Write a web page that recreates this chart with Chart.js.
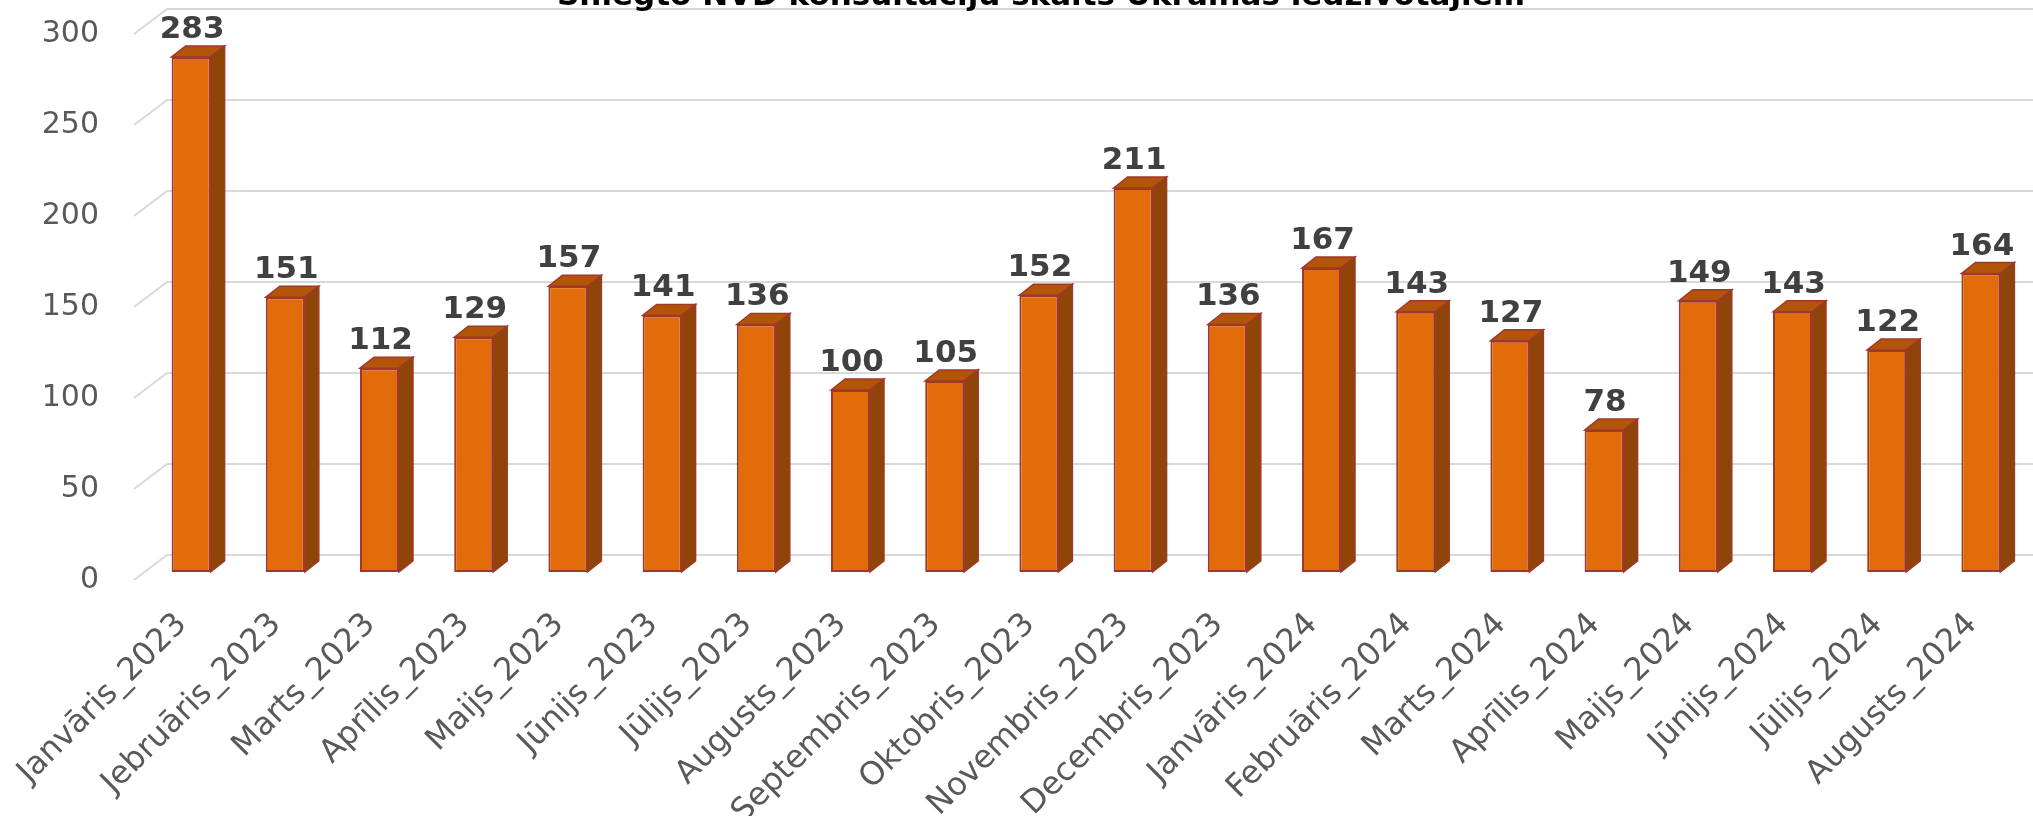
<!DOCTYPE html>
<html>
<head>
<meta charset="utf-8">
<script src="https://cdn.jsdelivr.net/npm/chart.js@4/dist/chart.umd.min.js"></script>
<style>
  html, body { margin: 0; padding: 0; background: #fff; }
</style>
</head>
<body>
<canvas id="graf" width="2033" height="816"></canvas>
<script>
// Mēneši (kategorijas)
const menesi = [
  'Janvāris_2023', 'Jebruāris_2023', 'Marts_2023', 'Aprīlis_2023', 'Maijs_2023',
  'Jūnijs_2023', 'Jūlijs_2023', 'Augusts_2023', 'Septembris_2023', 'Oktobris_2023',
  'Novembris_2023', 'Decembris_2023', 'Janvāris_2024', 'Februāris_2024', 'Marts_2024',
  'Aprīlis_2024', 'Maijs_2024', 'Jūnijs_2024', 'Jūlijs_2024', 'Augusts_2024'
];

// Konsultāciju skaits
const konsultacijas = [283, 151, 112, 129, 157, 141, 136, 100, 105, 152, 211, 136, 167, 143, 127, 78, 149, 143, 122, 164];

// Y ass iedaļas
const yTicks = [0, 50, 100, 150, 200, 250, 300];

const virsraksts = 'Sniegto NVD konsultāciju skaits Ukrainas iedzīvotājiem';

// dziļuma efekts (3D)
const DX = 14, DY = 11;

// režģa līnijas uz aizmugurējās sienas + slīpās līnijas
const rezgis = {
  id: 'rezgis',
  beforeDatasetsDraw(chart) {
    const ctx = chart.ctx;
    const y = chart.scales.y;
    const left = chart.chartArea.left;
    ctx.save();
    ctx.strokeStyle = '#d9d9d9';
    ctx.lineWidth = 2;
    yTicks.forEach(v => {
      const py = y.getPixelForValue(v);
      ctx.beginPath();
      ctx.moveTo(left - 10, py + 8);
      ctx.lineTo(left + 23, py - 17);
      ctx.lineTo(chart.width, py - 17);
      ctx.stroke();
    });
    ctx.restore();
  }
};

// stabiņu sāni un augša + vērtības
const stabini3d = {
  id: 'stabini3d',
  afterDatasetsDraw(chart) {
    const ctx = chart.ctx;
    const meta = chart.getDatasetMeta(0);
    ctx.save();
    meta.data.forEach((bar, i) => {
      const p = bar.getProps(['x', 'y', 'base', 'width'], true);
      const l = p.x - p.width / 2, r = p.x + p.width / 2;
      ctx.lineWidth = 1.5;
      ctx.strokeStyle = '#a0392b';
      // augša
      ctx.fillStyle = '#b25508';
      ctx.beginPath();
      ctx.moveTo(l, p.y);
      ctx.lineTo(l + DX, p.y - DY);
      ctx.lineTo(r + DX, p.y - DY);
      ctx.lineTo(r, p.y);
      ctx.closePath();
      ctx.fill();
      ctx.stroke();
      // sāns
      ctx.fillStyle = '#8f4408';
      ctx.beginPath();
      ctx.moveTo(r, p.y);
      ctx.lineTo(r + DX, p.y - DY);
      ctx.lineTo(r + DX, p.base - DY);
      ctx.lineTo(r, p.base);
      ctx.closePath();
      ctx.fill();
      ctx.stroke();
      // vērtība
      ctx.fillStyle = '#404040';
      ctx.font = 'bold 31px "DejaVu Sans"';
      ctx.textAlign = 'center';
      ctx.textBaseline = 'alphabetic';
      ctx.fillText(String(konsultacijas[i]), p.x + 1, p.y - 19);
    });
    // virsraksts (augšā nogriezts)
    ctx.fillStyle = '#000';
    ctx.font = 'bold 31px "DejaVu Sans"';
    ctx.textAlign = 'center';
    ctx.fillText(virsraksts, 1041, 5);
    ctx.restore();
  }
};

const ctx = document.getElementById('graf').getContext('2d');
window.grafiks = new Chart(ctx, {
  type: 'bar',
  data: {
    labels: menesi,
    datasets: [{
      data: konsultacijas,
      backgroundColor: '#e36c0a',
      borderColor: '#a0392b',
      borderWidth: 2,
      borderSkipped: false,
      barPercentage: 0.414,
      categoryPercentage: 1
    }]
  },
  options: {
    responsive: false,
    animation: false,
    devicePixelRatio: 1,
    layout: { padding: { top: 26, right: 5, left: 0, bottom: 0 } },
    plugins: {
      legend: { display: false },
      tooltip: { enabled: false },
      title: { display: false }
    },
    scales: {
      y: {
        min: 0,
        max: 300,
        grid: { display: false },
        border: { display: false },
        ticks: {
          stepSize: 50,
          color: '#595959',
          font: { family: 'DejaVu Sans', size: 30 },
          padding: 37,
          labelOffset: 8
        },
        afterFit(scale) {
          scale.width = 144;
          scale.paddingTop = 0;
          scale.paddingBottom = 0;
        }
      },
      x: {
        grid: { display: false },
        border: { display: false },
        ticks: {
          autoSkip: false,
          maxRotation: 45,
          minRotation: 45,
          color: '#595959',
          font: { family: 'DejaVu Sans', size: 32 },
          padding: 26,
          labelOffset: -9
        },
        afterFit(scale) {
          scale.height = 244;
          scale.paddingLeft = 0;
          scale.paddingRight = 0;
        }
      }
    }
  },
  plugins: [rezgis, stabini3d]
});
</script>
</body>
</html>
